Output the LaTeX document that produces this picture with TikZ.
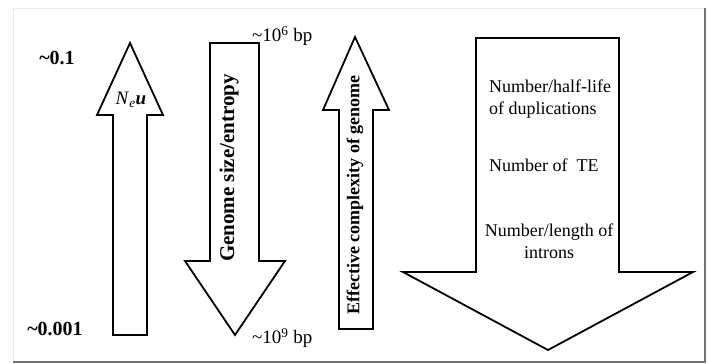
\documentclass[tikz,border=0pt]{standalone}
\usepackage{fontspec}
\setmainfont{Liberation Serif}
\begin{document}
\begin{tikzpicture}[x=1pt,y=-1pt,
  arr/.style={draw=black,line width=1.8pt,line join=miter,fill=white},
  lbl/.style={inner sep=0pt,font=\fontsize{18}{22}\selectfont},
  blbl/.style={inner sep=0pt,font=\bfseries\fontsize{20}{24}\selectfont}]
\useasboundingbox (0,0) rectangle (710,364);
% frame
\fill[white] (13,8) rectangle (705,362);
\draw[black!8,line width=1pt] (13,362) -- (13,8) -- (705,8);
\draw[black!55,line width=2.5pt] (13,362) -- (705,362) -- (705,8);
% arrow 1 (up)
\draw[arr] (113,335) -- (113,115) -- (97,115) -- (130,43) -- (163,115) -- (147,115) -- (147,335) -- cycle;
% arrow 2 (down)
\draw[arr] (210,43) -- (259,43) -- (259,261) -- (285,261) -- (235,335) -- (185,261) -- (210,261) -- cycle;
% arrow 3 (up)
\draw[arr] (339,329) -- (339,110) -- (323,110) -- (355,37) -- (389,110) -- (373,110) -- (373,329) -- cycle;
% arrow 4 (down)
\draw[arr] (476,38) -- (619,38) -- (619,272) -- (693,272) -- (548,350) -- (403,272) -- (476,272) -- cycle;
% labels
\node[blbl] (top) at (57,58) {\textasciitilde0.1};
\node[blbl] (bot) at (55,329) {\textasciitilde0.001};
\node[lbl,font=\fontsize{19}{22}\selectfont,anchor=west] (g6) at (252,36) {\textasciitilde10\textsuperscript{6} bp};
\node[lbl,font=\fontsize{19}{22}\selectfont,anchor=west] (g9) at (252,338) {\textasciitilde10\textsuperscript{9} bp};
\node[lbl,font=\fontsize{19}{22}\selectfont] (neu) at (131,100) {\textit{N}\textsubscript{\textit{e}}\textbf{\textit{u}}};
\node[lbl,font=\bfseries\fontsize{21}{24}\selectfont,rotate=90] (gs) at (229,168) {Genome size/entropy};
\node[lbl,font=\bfseries\fontsize{18}{22}\selectfont,rotate=90] (ec) at (355,195) {Effective complexity of genome};
\node[lbl,anchor=west,align=left] (dup) at (489,99) {Number/half-life\\of duplications};
\node[lbl,anchor=west] (te) at (489,165) {Number of~ TE};
\node[lbl,align=center] (intr) at (549,241) {Number/length of\\introns};
\end{tikzpicture}
\end{document}
